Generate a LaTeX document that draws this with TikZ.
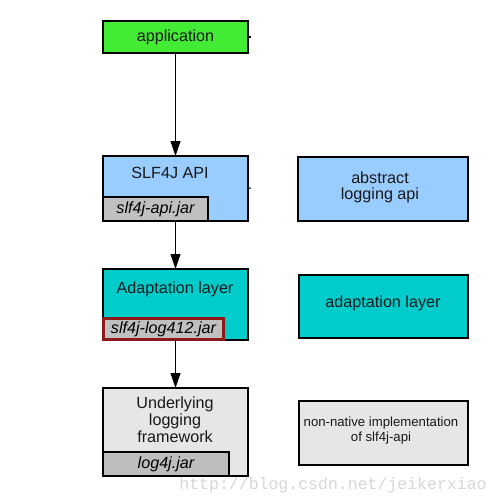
\documentclass[tikz,border=0pt]{standalone}
\usepackage{fontspec}
\setmainfont{Liberation Sans}
\newfontfamily\wmfont{Liberation Mono}
\usetikzlibrary{arrows.meta}
\definecolor{appgreen}{RGB}{66,235,52}
\definecolor{apiblue}{RGB}{153,204,255}
\definecolor{adteal}{RGB}{0,204,204}
\definecolor{jargray}{RGB}{192,192,192}
\definecolor{lightgray2}{RGB}{230,230,230}
\definecolor{loggray}{RGB}{190,190,190}
\definecolor{jarred}{RGB}{140,26,26}
\definecolor{wmgray}{RGB}{215,215,215}
\tikzset{
  boxn/.style={draw=black, line width=0.7pt, inner sep=0pt, outer sep=0pt},
  lbl/.style={inner sep=0pt, font=\fontsize{9.2}{10}\selectfont, text=black!90, align=center},
  jarlbl/.style={boxn, font=\fontsize{9.2}{10}\selectfont\itshape},
  conn/.style={draw=black, line width=0.7pt, -{Triangle[length=8.5pt,width=5.6pt]}},
  tick/.style={draw=black, line width=0.6pt}
}
\begin{document}
\begin{tikzpicture}[x=0.02cm,y=-0.02cm]
\useasboundingbox (0,0) rectangle (500,500);
\fill[white] (0,0) rectangle (500,500);
% left column
\node[boxn, fill=appgreen, minimum width=145*0.02cm, minimum height=32*0.02cm] (app) at (175.5,37) {};
\node[lbl] (applbl) at (175.5,37) {application};
\node[boxn, fill=apiblue, minimum width=145*0.02cm, minimum height=65*0.02cm] (api) at (175.5,188.5) {};
\node[lbl] (apilbl) at (170,173) {SLF4J API};
\node[jarlbl, fill=jargray, minimum width=105*0.02cm, minimum height=24*0.02cm] (apijar) at (155.5,209) {slf4j-api.jar};
\node[boxn, fill=adteal, minimum width=145*0.02cm, minimum height=71*0.02cm] (adapt) at (175.5,304.5) {};
\node[lbl] (adaptlbl) at (175,289) {Adaptation layer};
\node[jarlbl, draw=jarred, line width=1.2pt, fill=jargray, minimum width=120*0.02cm, minimum height=21*0.02cm] (adjar) at (163.5,329) {slf4j-log412.jar};
\node[boxn, fill=lightgray2, minimum width=145*0.02cm, minimum height=88*0.02cm] (under) at (175.5,432) {};
\node[lbl] (underlbl) at (175,420) {Underlying\\[-0.3pt]logging\\[-0.3pt]framework};
\node[jarlbl, fill=loggray, minimum width=126*0.02cm, minimum height=24*0.02cm] (logjar) at (166,464) {log4j.jar};
% right column
\node[boxn, fill=apiblue, minimum width=170*0.02cm, minimum height=64*0.02cm] (absbox) at (383,189) {};
\node[lbl] (abslbl) at (380,187) {abstract\\[-0.8pt]logging api};
\node[boxn, fill=adteal, minimum width=169*0.02cm, minimum height=63*0.02cm] (adbox) at (383.5,306.5) {};
\node[lbl] (adlbl) at (383,303) {adaptation layer};
\node[boxn, fill=lightgray2, minimum width=169*0.02cm, minimum height=64*0.02cm] (nnbox) at (383.5,433) {};
\node[lbl, font=\fontsize{7.5}{8.5}\selectfont] (nnlbl) at (381,431) {non-native implementation\\of slf4j-api};
% connectors
\draw[conn] (app.south) -- (api.north);
\draw[conn] (api.south) -- (adapt.north);
\draw[conn] (adapt.south) -- (under.north);
% small ticks
\coordinate (t1) at (251,37);
\coordinate (t2) at (251,188);
\draw[tick] (app.east) -- (t1);
\draw[tick] (api.east) -- (t2);
% watermark
\node[inner sep=0pt, text=wmgray, font=\wmfont\fontsize{9.4}{10}\selectfont] (wm) at (333,485) {http://blog.csdn.net/jeikerxiao};
\end{tikzpicture}
\end{document}
